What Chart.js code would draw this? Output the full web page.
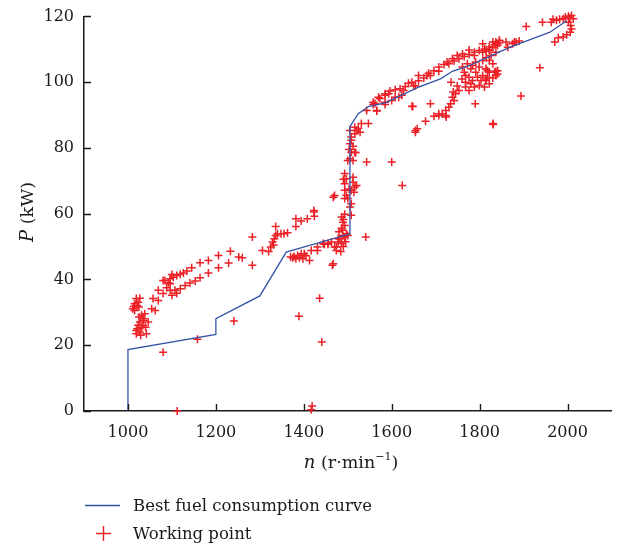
<!DOCTYPE html>
<html>
<head>
<meta charset="utf-8">
<title>Working points and best fuel consumption curve</title>
<script src="https://cdn.jsdelivr.net/npm/chart.js@4.4.1/dist/chart.umd.min.js"></script>
<style>
  html, body { margin: 0; padding: 0; background: #fff; }
  #wrap { width: 617px; height: 549px; }
</style>
</head>
<body>
<div id="wrap"><canvas id="myChart" width="617" height="549"></canvas></div>
<script>
// tick values
var xTicks = [1000, 1200, 1400, 1600, 1800, 2000];
var yTicks = [0, 20, 40, 60, 80, 100, 120];

// best fuel consumption curve (n in r/min, P in kW)
var curveN = [1000, 1000, 1200, 1200, 1300, 1360, 1505, 1505, 1524, 1547, 1585, 1661, 1711, 1738, 1776, 1868, 1960, 1998];
var curveP = [0, 18.7, 23.3, 28.1, 35.0, 48.3, 53.9, 86.5, 90.4, 92.6, 93.7, 98.5, 101.0, 103.3, 105.0, 110.6, 115.2, 118.7];

// working points
var workN = [
  1019,1015,1011,1023,1025,1015,1027,1021,1013,1031,1034,1036,1027,1023,1031,1019,1027,1019,1042,1046,1034,1025,1021,1038,1029,1040,1054,1057,1069,1080,1069,1080,1062,
  1084,1096,1103,1111,1119,1126,1134,1145,1164,1183,1206,1233,1100,1092,
  1100,1107,1119,1130,1141,1153,1164,1183,1206,1229,1252,1096,1096,1088,1111,
  1241,1158,1080,1112,1541,1624,1389,1436,1441,1417,1419,1465,
  1260,1283,1283,1306,1325,1329,1333,1336,1340,1348,1355,1363,1336,1382,1382,1394,1408,1423,1424,1423,1320,1331,
  1378,1386,1394,1375,1390,1382,1401,1413,1417,1431,1431,1444,1455,1463,1467,1474,1478,1370,1398,1405,
  1447,1455,1470,1474,1478,1482,1486,1489,1493,1497,1500,1484,1490,1495,1480,1488,1486,1489,1493,1486,1493,1490,
  1467,1470,1493,1497,1493,1512,1516,1508,1493,1497,1493,1500,1512,1520,1505,1508,1508,1490,1503,1514,
  1505,1512,1500,1508,1516,1543,1600,1505,1508,1505,1516,1520,1528,1516,1531,1547,1508,1512,1503,1524,1518,
  1566,1558,1573,1585,1593,1585,
  1543,1566,1558,1570,1585,1596,1608,1619,1631,1638,1646,1661,1673,1684,1707,1719,1730,1742,1753,1765,1776,1788,1799,1811,1822,1834,1845,1860,1879,1890,
  1600,1608,1623,1585,1562,1627,1654,1661,1680,1707,1726,1738,1749,1761,1776,1807,1830,1837,1845,1822,1807,1788,1616,1650,1688,1696,
  1738,1745,1753,1749,1742,1734,1730,1723,1715,1707,1696,1677,1658,1654,1724,1740,1735,
  1765,1776,1768,1784,1791,1799,1807,1814,1822,1837,1841,1814,1799,1788,1776,1768,1772,1784,1791,1807,1822,1830,1780,1768,1803,1830,1811,1822,1761,1795,1760,1780,
  1906,1943,1937,1894,1831,1790,1688,1648,1646,1654,1707,1723,1830,
  1967,1975,1982,1990,2002,2009,2013,2002,2007,2009,2006,1998,1990,1979,1971,1963,1995,2005,
  1883,1875,1864,1837,1845,1841,1830,1822,1815,1837,1826,1815,1814,1818,1834,1841,1837,1818,1815
];
var workP = [
  34.2,32.6,31.1,33.1,31.6,30.6,34.3,32.0,31.8,29.1,28.1,27.6,27.1,26.1,25.5,24.5,24.0,23.5,23.5,27.1,26.0,28.6,25.0,29.6,23.0,25.5,31.1,34.2,33.6,39.7,36.7,35.7,30.6,
  39.7,40.2,40.7,41.2,41.6,42.0,42.6,43.6,45.1,45.8,47.3,48.6,41.5,39.0,
  35.2,36.7,37.2,38.2,38.9,39.5,40.5,42.0,43.6,45.0,46.8,38.7,36.7,37.5,35.8,
  27.4,21.8,17.9,0,52.9,68.6,28.8,34.3,21.0,0.4,1.5,44.3,
  46.6,52.9,44.3,48.8,49.9,51.4,52.4,53.4,53.9,53.9,53.9,54.2,56.1,56.1,58.5,57.8,58.5,60.5,59.2,61.0,48.5,50.5,
  47.0,47.3,47.8,46.6,46.6,46.3,47.8,45.8,48.8,48.8,49.9,50.9,50.9,51.4,44.8,49.9,52.4,46.8,46.3,47.2,
  50.7,50.7,49.9,48.8,51.4,52.4,50.9,53.4,52.9,53.9,53.4,48.5,50.0,51.5,54.5,55.0,59.0,57.4,56.4,55.6,59.8,58.2,
  65.0,65.5,72.2,70.6,69.1,69.6,68.1,67.1,67.1,65.6,64.6,64.6,71.1,68.6,62.0,59.5,63.0,70.5,67.5,66.5,
  76.7,76.2,76.2,78.7,78.7,75.7,75.7,81.3,83.3,85.3,84.3,85.3,84.8,86.3,87.4,87.4,82.3,80.5,79.5,86.0,78.5,
  91.2,93.2,95.0,96.0,96.5,93.2,
  91.4,91.4,93.9,95.4,96.5,97.3,97.7,98.0,98.7,99.7,100.0,102.0,101.3,102.7,104.6,105.4,105.6,106.4,107.1,107.8,108.4,109.1,109.6,110.1,110.8,111.4,111.9,112.2,112.2,112.5,
  94.4,95.4,96.0,93.9,93.5,97.5,98.9,100.4,102.0,103.3,106.1,107.1,108.1,108.6,109.8,111.7,112.2,111.7,112.7,109.6,109.1,108.1,95.4,98.9,102.0,103.5,
  95.4,96.5,97.5,98.8,94.4,93.4,92.4,91.4,90.4,89.9,89.6,88.1,85.8,84.8,89.4,97.0,100.0,
  103.0,101.5,100.0,100.5,103.0,104.6,102.0,104.1,103.0,103.3,102.5,100.5,99.0,98.5,97.5,98.5,105.6,105.1,106.1,106.6,106.6,105.6,104.1,102.0,100.5,101.3,98.5,99.5,104.6,101.5,101.0,99.5,
  116.9,118.2,104.4,95.8,87.1,93.4,93.4,92.6,92.7,85.3,90.4,89.9,87.4,
  119.1,118.8,119.1,119.3,120.1,120.3,119.3,118.2,117.2,116.2,115.2,114.4,113.7,113.5,112.2,118.2,119.8,119.5,
  112.2,111.7,110.6,112.2,112.7,111.2,110.6,110.0,109.5,109.1,108.1,107.5,104.1,103.5,103.0,103.5,102.0,101.5,101.0
];

var blue = 'rgb(52, 84, 165)';
var red = 'rgb(236, 32, 38)';
var ink = '#1a1a1a';
var serif = '"DejaVu Serif", serif';

// inward tick marks, axis titles (italic symbol, superscript) and the legend under the chart
var extraText = {
  id: 'extraText',
  afterDraw: function(chart) {
    var ctx = chart.ctx;
    var xs = chart.scales.x, ys = chart.scales.y;
    var area = chart.chartArea;

    function drawParts(parts, cx, baseline) {
      var total = 0;
      parts.forEach(function(p) { ctx.font = p[0]; total += ctx.measureText(p[1]).width; });
      var x = cx - total / 2;
      parts.forEach(function(p) {
        ctx.font = p[0];
        ctx.fillText(p[1], x, baseline + p[2]);
        x += ctx.measureText(p[1]).width;
      });
    }

    ctx.save();
    // ticks pointing into the plot
    ctx.strokeStyle = ink;
    ctx.lineWidth = 1.4;
    ctx.beginPath();
    xTicks.forEach(function(v) {
      var px = Math.round(xs.getPixelForValue(v)) + 0.5;
      ctx.moveTo(px, area.bottom);
      ctx.lineTo(px, area.bottom - 7);
    });
    yTicks.forEach(function(v) {
      var py = Math.round(ys.getPixelForValue(v)) + 0.5;
      ctx.moveTo(area.left, py);
      ctx.lineTo(area.left + 7, py);
    });
    ctx.stroke();

    ctx.fillStyle = ink;
    ctx.textAlign = 'left';
    ctx.textBaseline = 'alphabetic';

    drawParts([
      ['italic 18px ' + serif, 'n', 0],
      ['17.5px ' + serif, ' (r\u00b7min', 0],
      ['11px ' + serif, '\u22121', -8],
      ['17.5px ' + serif, ')', 0]
    ], 351, 468);

    ctx.save();
    ctx.translate(33, 212);
    ctx.rotate(-Math.PI / 2);
    drawParts([
      ['italic 18px ' + serif, 'P', 0],
      ['17.5px ' + serif, ' (kW)', 0]
    ], 0, 0);
    ctx.restore();

    // legend
    ctx.strokeStyle = blue;
    ctx.lineWidth = 1.3;
    ctx.beginPath();
    ctx.moveTo(85, 505.5);
    ctx.lineTo(120, 505.5);
    ctx.stroke();

    ctx.strokeStyle = red;
    ctx.lineWidth = 1.4;
    ctx.beginPath();
    ctx.moveTo(96, 533.5);
    ctx.lineTo(111, 533.5);
    ctx.moveTo(103.5, 526);
    ctx.lineTo(103.5, 541);
    ctx.stroke();

    ctx.font = '16.5px ' + serif;
    ctx.fillText('Best fuel consumption curve', 133, 510.5);
    ctx.fillText('Working point', 133, 538.5);
    ctx.restore();
  }
};

var curveData = curveN.map(function(n, i) { return { x: n, y: curveP[i] }; });
var workData = workN.map(function(n, i) { return { x: n, y: workP[i] }; });

function plain(value) { return String(value); }

new Chart('myChart', {
  type: 'scatter',
  data: {
    datasets: [
      {
        label: 'Best fuel consumption curve',
        data: curveData,
        showLine: true,
        borderColor: blue,
        borderWidth: 1.3,
        pointRadius: 0,
        fill: false,
        tension: 0
      },
      {
        label: 'Working point',
        data: workData,
        pointStyle: 'cross',
        pointRadius: 4,
        borderColor: red,
        backgroundColor: red,
        borderWidth: 1.5,
        clip: false
      }
    ]
  },
  options: {
    responsive: false,
    animation: false,
    layout: { padding: { top: 16, right: 4, left: 0, bottom: 0 } },
    plugins: {
      legend: { display: false },
      tooltip: { enabled: false }
    },
    scales: {
      x: {
        type: 'linear',
        min: 900,
        max: 2100,
        afterBuildTicks: function(axis) {
          axis.ticks = xTicks.map(function(v) { return { value: v }; });
        },
        afterFit: function(axis) { axis.height = 138; },
        grid: { drawOnChartArea: false, drawTicks: false },
        border: { color: ink, width: 1.5 },
        ticks: { padding: 12, color: ink, font: { family: serif, size: 16 }, callback: plain }
      },
      y: {
        type: 'linear',
        min: 0,
        max: 120,
        afterBuildTicks: function(axis) {
          axis.ticks = yTicks.map(function(v) { return { value: v }; });
        },
        afterFit: function(axis) { axis.width = 84; },
        grid: { drawOnChartArea: false, drawTicks: false },
        border: { color: ink, width: 1.5 },
        ticks: { padding: 10, color: ink, font: { family: serif, size: 16, lineHeight: 0.8 }, callback: plain }
      }
    }
  },
  plugins: [extraText]
});
</script>
</body>
</html>
